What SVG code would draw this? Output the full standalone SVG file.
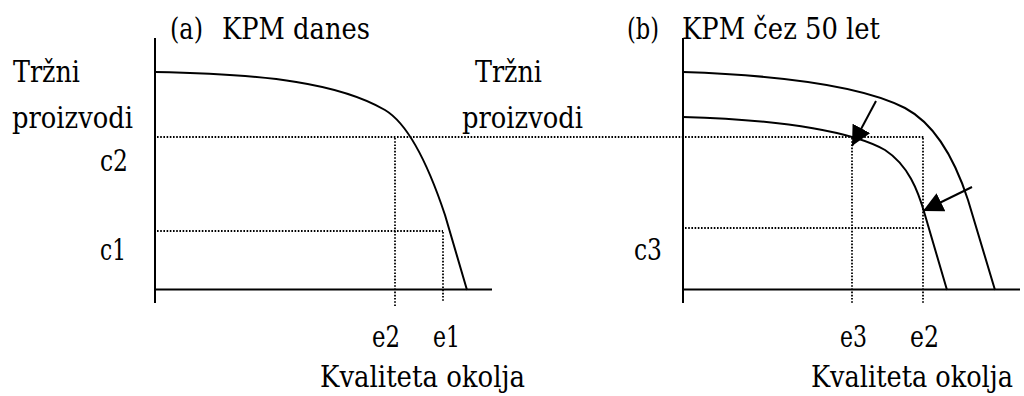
<svg xmlns="http://www.w3.org/2000/svg" width="1024" height="396" viewBox="0 0 1024 396">
<style>
text{font-family:'DejaVu Serif','Liberation Serif',serif;font-size:29px;fill:#000}
.ax{stroke:#000;stroke-width:2;fill:none}
.cv{stroke:#000;stroke-width:2;fill:none}
.dt{stroke:#000;stroke-width:1.8;stroke-dasharray:1.6 1.6;fill:none}
.ar{stroke:#000;stroke-width:2;fill:none;marker-end:url(#ah)}
</style>
<defs>
<marker id="ah" markerUnits="userSpaceOnUse" markerWidth="20" markerHeight="20" viewBox="0 0 20 20" refX="20" refY="10" orient="auto">
<path d="M0,0 L20,10 L0,20 z" fill="#000"/>
</marker>
</defs>
<rect width="1024" height="396" fill="#fff"/>
<g id="panel-a">
<line class="ax" x1="155" y1="38" x2="155" y2="303"/>
<line class="ax" x1="155" y1="289.5" x2="492" y2="289.5"/>
<path id="kpm-a" class="cv" d="M155,72 C270,74 340,84 385,110 C410,125 430,170 445,215 L467,290"/>
<text x="170" y="39" textLength="33" lengthAdjust="spacingAndGlyphs">(a)</text>
<text x="222" y="39" textLength="148" lengthAdjust="spacingAndGlyphs">KPM danes</text>
<text x="13" y="82" textLength="67" lengthAdjust="spacingAndGlyphs">Tržni</text>
<text x="12" y="128" textLength="121" lengthAdjust="spacingAndGlyphs">proizvodi</text>
<text x="100" y="171" textLength="28" lengthAdjust="spacingAndGlyphs">c2</text>
<text x="100" y="260" textLength="26" lengthAdjust="spacingAndGlyphs">c1</text>
<text x="372" y="347" textLength="28" lengthAdjust="spacingAndGlyphs">e2</text>
<text x="433" y="347" textLength="27" lengthAdjust="spacingAndGlyphs">e1</text>
<text x="320" y="387" textLength="205" lengthAdjust="spacingAndGlyphs">Kvaliteta okolja</text>
</g>
<g id="panel-b">
<line class="ax" x1="683" y1="38" x2="683" y2="303"/>
<line class="ax" x1="683" y1="289.5" x2="1020" y2="289.5"/>
<path id="kpm-b-now" class="cv" d="M683,72 C800,76 870,90 905,108 C935,124 955,160 968,200 L995,290"/>
<path id="kpm-b-50" class="cv" d="M683,117 C790,120 855,133 885,150 C908,165 918,190 925,215 L947,290"/>
<text x="627" y="39" textLength="32" lengthAdjust="spacingAndGlyphs">(b)</text>
<text x="682" y="39" textLength="198" lengthAdjust="spacingAndGlyphs">KPM čez 50 let</text>
<text x="475" y="82" textLength="67" lengthAdjust="spacingAndGlyphs">Tržni</text>
<text x="462" y="128" textLength="121" lengthAdjust="spacingAndGlyphs">proizvodi</text>
<text x="634" y="260" textLength="28" lengthAdjust="spacingAndGlyphs">c3</text>
<text x="840" y="347" textLength="27" lengthAdjust="spacingAndGlyphs">e3</text>
<text x="910" y="347" textLength="29" lengthAdjust="spacingAndGlyphs">e2</text>
<text x="811" y="387" textLength="202" lengthAdjust="spacingAndGlyphs">Kvaliteta okolja</text>
</g>
<g id="connectors">
<line class="dt" x1="157" y1="137" x2="924" y2="137"/>
<line class="dt" x1="395" y1="138" x2="395" y2="307"/>
<line class="dt" x1="157" y1="231" x2="443" y2="231"/>
<line class="dt" x1="443" y1="232" x2="443" y2="302"/>
<line class="dt" x1="852" y1="138" x2="852" y2="303"/>
<line class="dt" x1="923" y1="138" x2="923" y2="303"/>
<line class="dt" x1="685" y1="228" x2="923" y2="228"/>
<line class="ar" x1="876" y1="101" x2="852" y2="146"/>
<line class="ar" x1="972" y1="187" x2="923" y2="211"/>
</g>
</svg>
